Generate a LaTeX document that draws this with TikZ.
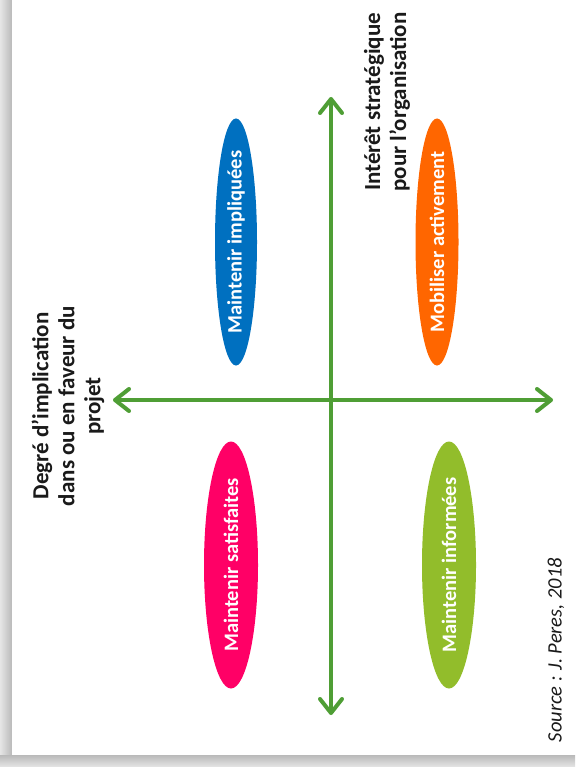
\documentclass[tikz,border=0pt]{standalone}
\usepackage{fontspec}
\setmainfont{Carlito}
\usetikzlibrary{shapes.geometric,arrows.meta}
\definecolor{axisgreen}{HTML}{4F9E35}
\definecolor{cblue}{HTML}{0070C0}
\definecolor{corange}{HTML}{FF6600}
\definecolor{cpink}{HTML}{FF0066}
\definecolor{cgreen}{HTML}{92BD2B}
\definecolor{ink}{HTML}{1A1A1A}
\begin{document}
\begin{tikzpicture}[x=1pt,y=-1pt,
    axis/.style={draw=axisgreen,line width=4pt,line cap=round,line join=round,
        {Straight Barb[length=14pt,width=22pt,line cap=round,line join=round]}-{Straight Barb[length=14pt,width=22pt,line cap=round,line join=round]}},
    blob/.style={ellipse,rotate=90,inner xsep=-30pt,inner ysep=0pt,minimum width=247pt,text=white,
        font=\fontsize{20.5}{24}\selectfont\bfseries},
    lbl/.style={rotate=90,align=center,text=ink,font=\fontsize{23}{26}\selectfont\bfseries}]
    % page and its shadow
    \useasboundingbox (0,0) rectangle (575,767);
    \shade[left color=gray!20,right color=gray!55] (0,0) rectangle (12,767);
    \shade[top color=gray!55,bottom color=gray!20] (0,755) rectangle (575,767);
    \fill[white] (12,0) rectangle (575,755);
    % axes
    \coordinate (top)    at (331,97);
    \coordinate (bottom) at (331,715);
    \coordinate (left)   at (113,400);
    \coordinate (right)  at (553,400);
    \draw[axis] (bottom) -- (top);
    \draw[axis] (left) -- (right);
    % quadrants
    \node[blob,fill=cblue,minimum height=42pt]   (impl) at (236,242) {Maintenir impliquées};
    \node[blob,fill=corange,minimum height=43pt] (mob)  at (437,242) {Mobiliser activement};
    \node[blob,fill=cpink,minimum height=54pt]   (sat)  at (231,565) {Maintenir satisfaites};
    \node[blob,fill=cgreen,minimum height=54pt]  (inf)  at (449,565) {Maintenir informées};
    % labels
    \node[lbl] (strat) at (387,102) {Intérêt stratégique\\pour l’organisation};
    \node[lbl] (degre) at (68,406)  {Degré d’implication\\dans ou en faveur du\\projet};
    \node[rotate=90,text=ink,font=\fontsize{20.5}{24}\selectfont\itshape] (src) at (556,650) {Source : J. Peres, 2018};
\end{tikzpicture}
\end{document}
